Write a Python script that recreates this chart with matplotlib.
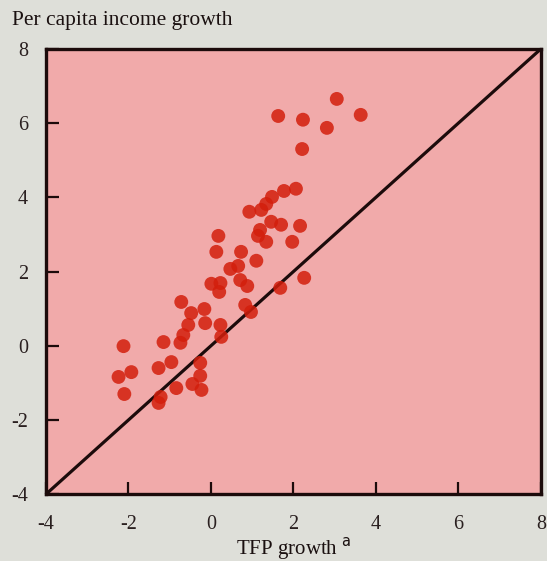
import matplotlib
matplotlib.use("Agg")
import matplotlib.pyplot as plt

# TFP growth (x) vs per capita income growth (y)
tfp_growth = [1.63, 3.05, 3.63, 2.23, 2.81, 2.21,
              1.77, 2.06, 1.48, 1.34, 1.22, 0.93, 1.46, 1.70, 2.16, 1.19,
              1.14, 1.34, 1.97, 0.18, 0.13, 0.73, 1.10, 0.66, 0.47, 2.26,
              0.71, 0.88, 1.68, 0.01, 0.23, 0.20, -0.72, -0.48, -0.16, 0.83,
              0.97, -0.55, -0.14, 0.23, 0.25, -0.67, -0.74, -1.15, -2.12,
              -2.24, -1.93, -2.10, -1.27, -0.96, -0.26, -0.26, -0.45, -0.23,
              -0.84, -1.22, -1.27]
income_growth = [6.19, 6.65, 6.22, 6.09, 5.87, 5.30,
                 4.17, 4.23, 4.01, 3.82, 3.66, 3.61, 3.34, 3.26, 3.23, 3.12,
                 2.96, 2.80, 2.80, 2.96, 2.53, 2.53, 2.29, 2.15, 2.07, 1.83,
                 1.77, 1.61, 1.56, 1.67, 1.69, 1.45, 1.18, 0.88, 0.99, 1.10,
                 0.91, 0.56, 0.61, 0.56, 0.24, 0.29, 0.08, 0.10, -0.01,
                 -0.84, -0.71, -1.30, -0.60, -0.44, -0.46, -0.81, -1.03, -1.19,
                 -1.14, -1.38, -1.54]
ticks = [-4, -2, 0, 2, 4, 6, 8]
diag = [-4, 8]

ink = "#1c0b0b"
plt.rcParams["font.family"] = ["Liberation Serif", "DejaVu Serif"]
plt.rcParams["axes.unicode_minus"] = False

fig = plt.figure(figsize=(5.47, 5.61), dpi=100, facecolor="#dedfd9")
ax = fig.add_axes([0.084, 0.119, 0.905, 0.794])
ax.set_facecolor("#f1aaaa")

ax.plot(diag, diag, color=ink, lw=2.3, zorder=2)
ax.scatter(tfp_growth, income_growth, s=100, color="#d31e0c", alpha=0.85,
           edgecolors="none", zorder=3)

ax.set_xlim(-4, 8)
ax.set_ylim(-4, 8)
ax.set_xticks(ticks)
ax.set_yticks(ticks)
ax.tick_params(direction="in", length=9, width=1.6, color=ink,
               labelsize=14.5, labelcolor="#2a2020")
ax.tick_params(axis="x", pad=15)
ax.tick_params(axis="y", pad=13)
for sp in ax.spines.values():
    sp.set_linewidth(2.4)
    sp.set_color(ink)

ax.set_xlabel(r"TFP growth $^{\mathsf{a}}$", fontsize=15, color="#1a1010",
              labelpad=1)
fig.text(0.022, 0.955, "Per capita income growth", fontsize=15.5,
         color="#1a1010", ha="left", va="baseline")

fig.savefig("out.png", dpi=100, facecolor=fig.get_facecolor())
